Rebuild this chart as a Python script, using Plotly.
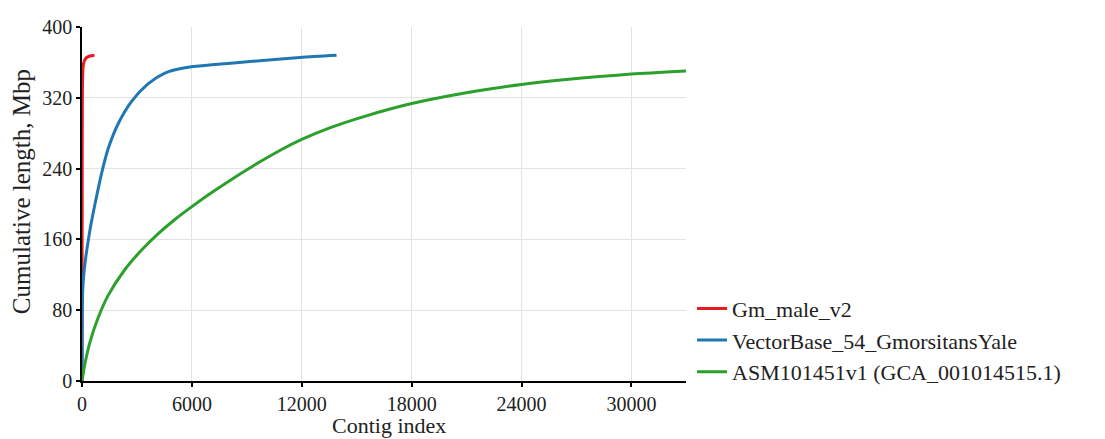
import plotly.graph_objects as go

# Cumulative assembly length (Mbp) against contig index, contigs sorted by size
gm_male_idx = [0, 3, 8, 15, 30, 60, 100, 160, 250, 400, 680]
gm_male_mbp = [0, 90, 200, 290, 340, 355, 360, 363, 365.5, 367, 368]

vectorbase_idx = [0, 5, 15, 40, 100, 200, 330, 480, 750, 1073, 1436, 1982, 2709,
                  3618, 4527, 5618, 7255, 9164, 11890, 13900]
vectorbase_mbp = [0, 45, 80, 103, 121, 139, 157, 176, 204, 235, 263, 291, 316,
                  336, 348, 354, 357.5, 361, 365.5, 368]

asm_idx = [0, 164, 436, 891, 1436, 2345, 3255, 4164, 5073, 6000, 7164, 8982, 10800,
           12000, 13527, 15345, 18000, 20073, 21890, 24000, 26436, 28255, 30000, 32982]
asm_mbp = [0, 20, 44, 72, 97, 126, 148, 166.5, 182.5, 197, 214, 238.5, 260.5,
           273, 286, 298.5, 313.5, 322.3, 328.8, 335.0, 340.6, 344.0, 346.8, 350.3]

series = [
    ("Gm_male_v2", gm_male_idx, gm_male_mbp, "#e8191f"),
    ("VectorBase_54_GmorsitansYale", vectorbase_idx, vectorbase_mbp, "#1f77b4"),
    ("ASM101451v1 (GCA_001014515.1)", asm_idx, asm_mbp, "#2ca02c"),
]

x_ticks = [0, 6000, 12000, 18000, 24000, 30000]
y_ticks = [0, 80, 160, 240, 320, 400]

FONT = "Liberation Serif"
INK = "#222"

fig = go.Figure()
for name, xs, ys, color in series:
    fig.add_trace(go.Scatter(
        x=xs, y=ys, name=name, mode="lines",
        line=dict(color=color, width=3, shape="spline", smoothing=0.8),
    ))

axis_common = dict(
    showline=True, linecolor="black", linewidth=1.5,
    ticks="outside", ticklen=4, tickwidth=1.5, tickcolor="black",
    showgrid=True, gridcolor="#e3e3e3", gridwidth=1,
    zeroline=False, automargin=False, tickformat="d",
    tickfont=dict(family=FONT, size=20, color=INK),
)

fig.update_layout(
    width=1105, height=439,
    margin=dict(l=82, r=419, t=27, b=58),
    paper_bgcolor="white", plot_bgcolor="white",
    font=dict(family=FONT, size=20, color=INK),
    xaxis=dict(range=[0, 32982], tickvals=x_ticks, **axis_common),
    yaxis=dict(range=[0, 400], tickvals=y_ticks, **axis_common),
    legend=dict(x=1.01, y=-0.033, xanchor="left", yanchor="bottom",
                font=dict(family=FONT, size=22, color=INK), tracegroupgap=0,
                itemwidth=30, bgcolor="rgba(0,0,0,0)"),
    annotations=[
        dict(text="Contig index", xref="paper", yref="paper", x=0.509, y=-0.164,
             xanchor="center", yanchor="bottom", showarrow=False, borderpad=0,
             font=dict(family=FONT, size=22, color=INK)),
        dict(text="Cumulative length, Mbp", xref="paper", yref="paper", x=-0.099, y=0.534,
             xanchor="center", yanchor="middle", showarrow=False, textangle=-90,
             font=dict(family=FONT, size=25, color=INK)),
    ],
)

fig.write_html("out.html")
